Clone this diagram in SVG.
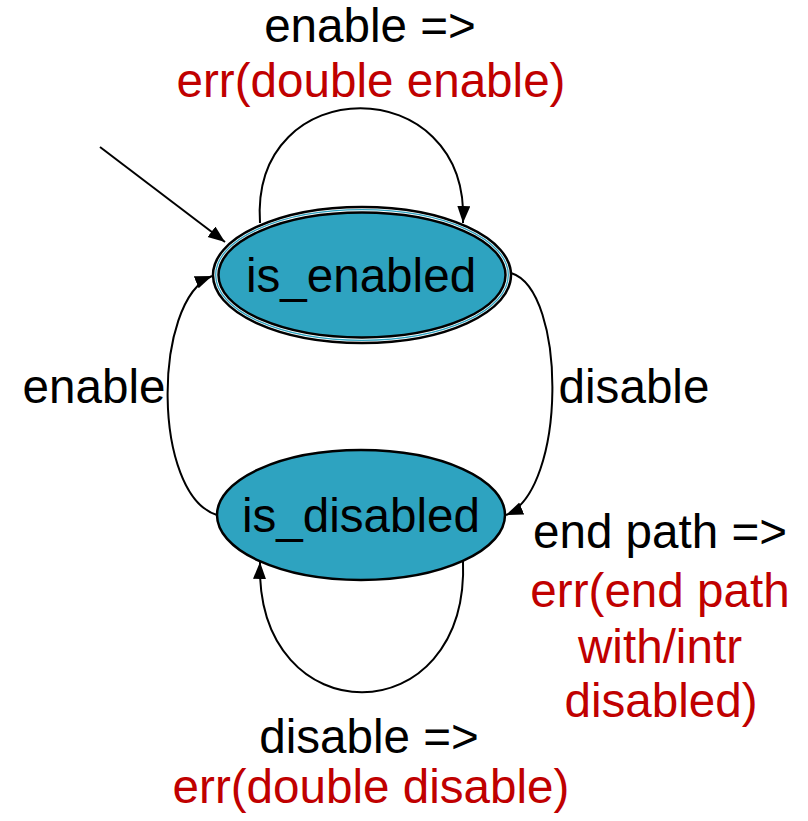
<svg xmlns="http://www.w3.org/2000/svg" width="808" height="821" viewBox="0 0 808 821">
<style>
text{font-family:"Liberation Sans",Arial,sans-serif;font-size:47.6px;text-anchor:middle}
.blk{fill:#000}
.red{fill:#C00000}
.edge{fill:none;stroke:#000;stroke-width:2}
.state{fill:#2EA3C0;stroke:#000;stroke-width:2.5}
</style>
<defs>
<marker id="arr" markerUnits="userSpaceOnUse" markerWidth="20" markerHeight="16" refX="17" refY="6.5" orient="auto">
<path d="M0,0 L17,6.5 L0,13 Z" fill="#000"/>
</marker>
</defs>
<rect width="808" height="821" fill="#fff"/>
<g id="connectors">
<path class="edge" d="M100,147 L225,242" marker-end="url(#arr)"/>
<path class="edge" d="M260,223 C250,70 470,70 463,223" marker-end="url(#arr)"/>
<path class="edge" d="M217,515 C152,495 152,300 212,276" marker-end="url(#arr)"/>
<path class="edge" d="M511,273 C567,290 567,490 506,515" marker-end="url(#arr)"/>
<path class="edge" d="M463,560 C470,736 255,736 260,562" marker-end="url(#arr)"/>
</g>
<g id="is_enabled">
<ellipse cx="362" cy="275" rx="149" ry="68" fill="#fff" stroke="#000" stroke-width="2.5"/>
<ellipse cx="362" cy="275" rx="146.3" ry="65.3" fill="none" stroke="#2EA3C0" stroke-width="1.3"/>
<ellipse class="state" cx="362" cy="275" rx="143.5" ry="62.5"/>
<text class="blk" x="361" y="292">is_enabled</text>
</g>
<g id="is_disabled">
<ellipse class="state" cx="361" cy="515" rx="144" ry="65"/>
<text class="blk" x="361" y="532">is_disabled</text>
</g>
<g id="labels">
<text class="blk" x="370" y="42">enable =&gt;</text>
<text class="red" x="371" y="97">err(double enable)</text>
<text class="blk" x="94" y="403">enable</text>
<text class="blk" x="634" y="403">disable</text>
<text class="blk" x="660" y="548">end path =&gt;</text>
<text class="red" x="660" y="607">err(end path</text>
<text class="red" x="660" y="663">with/intr</text>
<text class="red" x="661" y="717">disabled)</text>
<text class="blk" x="369" y="753">disable =&gt;</text>
<text class="red" x="371" y="803">err(double disable)</text>
</g>
</svg>
